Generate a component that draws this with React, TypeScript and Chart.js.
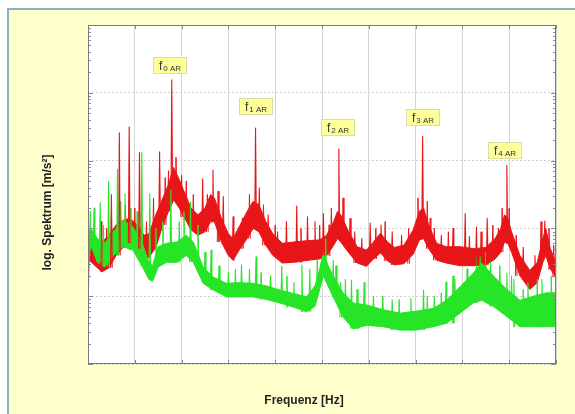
import React, { useEffect, useRef } from "react";
import { Chart, registerables } from "chart.js";

Chart.register(...registerables);

// ---- data (x in grid units of frequency, y in decades of the log spectrum) ----
const xTicks = [0, 1, 2, 3, 4, 5, 6, 7, 8, 9, 10];
const yDecades = [0, 1, 2, 3, 4, 5];
const minorMultipliers = [2, 3, 4, 5, 6, 7, 8, 9];

const redFreq = [
  0, 0.15, 0.3, 0.45, 0.6, 0.75, 0.9, 1.05, 1.2, 1.3,
  1.45, 1.6, 1.72, 1.83, 1.95, 2.05, 2.2, 2.35, 2.5, 2.62,
  2.7, 2.85, 3.0, 3.1, 3.25, 3.4, 3.53, 3.65, 3.8, 3.95,
  4.15, 4.4, 4.7, 4.95, 5.1, 5.25, 5.33, 5.4, 5.55, 5.75,
  5.95, 6.1, 6.25, 6.4, 6.55, 6.75, 6.95, 7.08, 7.17, 7.28,
  7.45, 7.65, 7.95, 8.25, 8.5, 8.7, 8.82, 8.9, 8.97, 9.05,
  9.23, 9.44, 9.6, 9.72, 9.78, 9.88, 10,
];
const redUpper = [
  1.95, 1.85, 1.8, 1.9, 2.05, 2.12, 2.15, 2.05, 1.9, 1.92,
  2.2, 2.45, 2.65, 2.9, 2.72, 2.55, 2.3, 2.2, 2.3, 2.5,
  2.45, 2.15, 1.92, 1.85, 2.05, 2.25, 2.4, 2.35, 2.1, 1.92,
  1.78, 1.8, 1.82, 1.83, 1.9, 2.1, 2.25, 2.2, 1.98, 1.73,
  1.68, 1.8, 1.93, 1.8, 1.72, 1.75, 1.98, 2.25, 2.3, 2.05,
  1.78, 1.73, 1.73, 1.7, 1.72, 1.85, 2.0, 2.2, 2.15, 1.95,
  1.6, 1.38, 1.5, 1.85, 2.0, 1.7, 1.5,
];
const redLower = [
  1.55, 1.45, 1.36, 1.42, 1.6, 1.72, 1.78, 1.7, 1.58, 1.57,
  1.72, 2.05, 2.25, 2.42, 2.3, 2.17, 1.98, 1.9, 1.95, 2.1,
  2.1, 1.8, 1.6, 1.53, 1.7, 1.85, 2.0, 1.95, 1.75, 1.6,
  1.49, 1.5, 1.53, 1.55, 1.6, 1.75, 1.85, 1.8, 1.66, 1.49,
  1.44, 1.55, 1.64, 1.52, 1.46, 1.48, 1.62, 1.83, 1.85, 1.7,
  1.53, 1.49, 1.45, 1.45, 1.46, 1.55, 1.65, 1.8, 1.78, 1.65,
  1.3, 1.1, 1.2, 1.5, 1.6, 1.4, 1.28,
];
// tall discrete lines
const redSpikeFreq = [
  0.28, 0.5, 0.67, 0.88, 1.1, 1.53, 1.79, 2.0, 2.45, 2.67,
  2.89, 3.1, 3.58, 3.66, 4.24, 4.46, 4.69, 4.85, 5.03, 5.36,
  5.7, 6.03, 6.26, 6.5, 7.15, 7.31, 7.8, 8.06, 8.3, 8.53,
  8.77, 8.95, 9.76, 3.3, 3.85, 4.05, 5.15, 5.85, 6.7, 7.55,
  8.15, 9.3, 9.55,
];
const redSpikePeak = [
  2.1, 2.5, 3.41, 3.5, 3.12, 3.13, 4.19, 2.78, 2.73, 2.86,
  2.47, 2.17, 3.48, 2.6, 2.1, 2.33, 2.17, 2.1, 2.22, 3.17,
  1.95, 2.08, 2.05, 1.95, 3.36, 2.15, 2.0, 2.22, 2.02, 2.15,
  2.0, 2.93, 2.11, 2.15, 2.2, 1.95, 2.05, 1.85, 1.9, 1.9,
  1.88, 1.72, 1.6,
];
// short noise peaks on the band edge
const redFuzzFreq = [
  0.4, 0.8, 1.0, 1.25, 1.4, 1.65, 1.72, 1.88, 2.1, 2.25,
  2.55, 2.78, 3.45, 3.75, 4.0, 4.55, 4.95, 5.2, 5.45, 5.6,
  6.15, 6.35, 6.85, 7.05, 7.25, 7.4, 7.7, 8.4, 8.65, 8.85,
  9.0, 9.15, 9.68, 9.85, 9.95,
];
const redFuzzPeak = [
  2.0, 2.35, 2.3, 2.1, 2.45, 2.75, 2.85, 3.05, 2.7, 2.5,
  2.5, 2.55, 2.5, 2.35, 2.05, 2.0, 2.05, 2.3, 2.45, 2.15,
  2.0, 2.1, 2.0, 2.45, 2.4, 2.0, 1.95, 1.95, 2.05, 2.3,
  2.3, 1.9, 2.1, 2.0, 1.75,
];

const greenFreq = [
  0, 0.03, 0.06, 0.2, 0.36, 0.54, 0.75, 0.96, 1.15, 1.3,
  1.38, 1.5, 1.68, 1.9, 2.1, 2.25, 2.46, 2.68, 2.96, 3.25,
  3.53, 3.82, 4.1, 4.39, 4.67, 4.85, 4.95, 5.03, 5.13, 5.24,
  5.45, 5.67, 5.96, 6.31, 6.67, 7.02, 7.38, 7.66, 7.95, 8.23,
  8.41, 8.66, 8.95, 9.23, 9.52, 9.8, 10,
];
const greenUpper = [
  1.2, 1.95, 2.0, 1.85, 1.78, 1.95, 2.12, 2.02, 1.8, 1.5,
  1.45, 1.73, 1.78, 1.8, 1.9, 1.8, 1.43, 1.28, 1.19, 1.2,
  1.19, 1.15, 1.09, 1.04, 0.99, 1.15, 1.4, 1.65, 1.45, 1.3,
  1.05, 0.9, 0.87, 0.8, 0.75, 0.78, 0.82, 0.94, 1.14, 1.34,
  1.49, 1.3, 1.1, 0.94, 1.0, 1.05, 1.05,
];
const greenLower = [
  0.85, 1.6, 1.75, 1.5, 1.43, 1.6, 1.73, 1.68, 1.45, 1.25,
  1.22, 1.43, 1.5, 1.5, 1.6, 1.5, 1.19, 1.09, 0.99, 0.99,
  0.99, 0.95, 0.9, 0.84, 0.77, 0.85, 1.1, 1.3, 1.15, 0.99,
  0.69, 0.52, 0.57, 0.55, 0.5, 0.5, 0.55, 0.6, 0.75, 0.9,
  0.94, 0.85, 0.7, 0.55, 0.55, 0.55, 0.55,
];
const greenSpikeFreq = [
  0.13, 0.26, 0.44, 0.63, 0.79, 1.15, 1.32, 1.77, 2.19, 2.63,
  3.28, 3.59, 4.14, 4.57, 4.74, 5.24, 5.63, 5.9, 7.17, 7.65,
  7.84, 8.38, 8.95, 3.0, 3.9, 4.4, 5.4, 6.1, 6.5, 6.9,
  7.4, 8.1, 8.6, 9.1, 9.4, 9.7,
];
const greenSpikePeak = [
  2.3, 2.38, 2.69, 2.87, 2.51, 3.12, 2.51, 2.57, 2.39, 1.68,
  1.46, 1.58, 1.44, 1.46, 1.4, 1.53, 1.24, 1.2, 1.09, 1.21,
  1.25, 1.58, 1.34, 1.35, 1.3, 1.2, 1.2, 1.0, 0.95, 0.97,
  1.0, 1.4, 1.5, 1.25, 1.2, 1.25,
];
const greenFuzzFreq = [
  0.05, 0.33, 0.5, 0.7, 0.9, 1.05, 1.45, 1.6, 1.95, 2.05,
  2.35, 2.5, 2.8, 3.15, 3.45, 3.7, 4.25, 4.9, 5.08, 5.3,
  5.5, 5.75, 6.3, 6.65, 7.25, 7.55, 7.8, 8.3, 8.5, 8.8,
  9.05, 9.3, 9.6, 9.9,
];
const greenFuzzPeak = [
  2.25, 2.05, 2.2, 2.4, 2.3, 2.25, 2.0, 2.1, 2.1, 2.25,
  2.05, 1.65, 1.45, 1.4, 1.4, 1.35, 1.3, 1.55, 1.85, 1.45,
  1.25, 1.1, 1.0, 0.95, 1.0, 1.05, 1.3, 1.6, 1.65, 1.45,
  1.3, 1.1, 1.25, 1.3,
];

const peakSubs = ["0 AR", "1 AR", "2 AR", "3 AR", "4 AR"];
const peakLabelFreq = [1.75, 3.57, 5.34, 7.14, 8.91];
const peakLabelLevel = [4.41, 3.81, 3.5, 3.64, 3.16];

const xTitle = "Frequenz [Hz]";
const yTitle = "log. Spektrum [m/s²]";

// ---- styles ----
const RED = "rgb(232,22,24)";
const GREEN = "rgb(38,228,38)";
const SPIKE_HALF = 0.018;
const FONT = '"Liberation Sans", Arial, Helvetica, sans-serif';

function nearestIndex(xs: number[], x: number) {
  let best = 0;
  for (let i = 1; i < xs.length; i++) {
    if (Math.abs(xs[i] - x) < Math.abs(xs[best] - x)) best = i;
  }
  return best;
}

function envelope(xs: number[], ys: number[]) {
  return xs.map((x, i) => ({ x, y: ys[i] }));
}

function spikes(sx: number[], sy: number[], fx: number[], lo: number[]) {
  const pts: { x: number; y: number | null }[] = [];
  sx.forEach((x, i) => {
    const base = lo[nearestIndex(fx, x)];
    pts.push({ x: x - SPIKE_HALF, y: base });
    pts.push({ x, y: sy[i] });
    pts.push({ x: x + SPIKE_HALF, y: base });
    pts.push({ x: x + SPIKE_HALF, y: null });
  });
  return pts;
}

const decorPlugin = {
  id: "decor",
  beforeDraw(chart: any) {
    const { ctx, chartArea: a } = chart;
    ctx.save();
    ctx.fillStyle = "#ffffff";
    ctx.fillRect(a.left, a.top, a.right - a.left, a.bottom - a.top);
    ctx.restore();
  },
  afterDraw(chart: any) {
    const { ctx, chartArea: a, scales } = chart;
    const xs = scales.x;
    const ys = scales.y;
    ctx.save();
    ctx.strokeStyle = "#8a8a8a";
    ctx.lineWidth = 1;
    ctx.beginPath();
    yDecades.forEach((d) => {
      const py = Math.round(ys.getPixelForValue(d)) + 0.5;
      ctx.moveTo(a.left, py);
      ctx.lineTo(a.left + 5, py);
      ctx.moveTo(a.right, py);
      ctx.lineTo(a.right - 5, py);
      minorMultipliers.forEach((k) => {
        const v = d + Math.log10(k);
        if (v > yDecades[yDecades.length - 1]) return;
        const pm = Math.round(ys.getPixelForValue(v)) + 0.5;
        ctx.moveTo(a.left, pm);
        ctx.lineTo(a.left + 3, pm);
        ctx.moveTo(a.right, pm);
        ctx.lineTo(a.right - 3, pm);
      });
    });
    xTicks.forEach((t) => {
      const px = Math.round(xs.getPixelForValue(t)) + 0.5;
      ctx.moveTo(px, a.bottom);
      ctx.lineTo(px, a.bottom - 4);
      ctx.moveTo(px, a.top);
      ctx.lineTo(px, a.top + 4);
    });
    ctx.stroke();
    ctx.strokeStyle = "#7a7a7a";
    ctx.strokeRect(
      Math.round(a.left) + 0.5,
      Math.round(a.top) + 0.5,
      Math.round(a.right - a.left) - 1,
      Math.round(a.bottom - a.top) - 1
    );
    peakSubs.forEach((sub, i) => {
      const cx = xs.getPixelForValue(peakLabelFreq[i]);
      const cy = ys.getPixelForValue(peakLabelLevel[i]);
      ctx.font = `12px ${FONT}`;
      const wf = ctx.measureText("f").width;
      ctx.font = `8px ${FONT}`;
      const ws = ctx.measureText(sub).width;
      const w = Math.round(wf + 1 + ws + 11);
      const h = 16;
      const bx = Math.round(cx - w / 2) + 0.5;
      const by = Math.round(cy - h / 2) + 0.5;
      ctx.fillStyle = "#ffff99";
      ctx.fillRect(bx, by, w, h);
      ctx.strokeStyle = "#dcdca8";
      ctx.strokeRect(bx, by, w, h);
      ctx.fillStyle = "#333333";
      ctx.textBaseline = "alphabetic";
      ctx.textAlign = "left";
      const tx = bx + 5.5;
      ctx.font = `12px ${FONT}`;
      ctx.fillText("f", tx, by + 12);
      ctx.font = `8px ${FONT}`;
      ctx.fillText(sub, tx + wf + 1, by + 13);
    });
    ctx.fillStyle = "#222222";
    ctx.font = `bold 12px ${FONT}`;
    ctx.textAlign = "center";
    ctx.textBaseline = "middle";
    ctx.fillText(xTitle, (a.left + a.right) / 2 - 18, a.bottom + 37);
    ctx.translate(a.left - 40, (a.top + a.bottom) / 2 + 18);
    ctx.rotate(-Math.PI / 2);
    ctx.fillText(yTitle, 0, 0);
    ctx.restore();
  },
};

export default function App() {
  const ref = useRef<HTMLCanvasElement>(null);

  useEffect(() => {
    if (!ref.current) return;
    const line = { pointRadius: 0, tension: 0, borderJoinStyle: "round" as const };
    const chart = new Chart(ref.current, {
      type: "line",
      data: {
        datasets: [
          {
            data: spikes(greenSpikeFreq, greenSpikePeak, greenFreq, greenLower),
            borderColor: GREEN,
            borderWidth: 1.1,
            fill: false,
            spanGaps: false,
            ...line,
          },
          {
            data: spikes(redSpikeFreq, redSpikePeak, redFreq, redLower),
            borderColor: RED,
            borderWidth: 1.1,
            fill: false,
            spanGaps: false,
            ...line,
          },
          {
            data: spikes(greenFuzzFreq, greenFuzzPeak, greenFreq, greenLower),
            borderColor: GREEN,
            borderWidth: 1,
            fill: false,
            spanGaps: false,
            ...line,
          },
          {
            data: envelope(greenFreq, greenUpper),
            borderColor: GREEN,
            backgroundColor: GREEN,
            borderWidth: 1,
            fill: "+1",
            ...line,
          },
          {
            data: envelope(greenFreq, greenLower),
            borderColor: GREEN,
            borderWidth: 1,
            fill: false,
            ...line,
          },
          {
            data: spikes(redFuzzFreq, redFuzzPeak, redFreq, redLower),
            borderColor: RED,
            borderWidth: 1,
            fill: false,
            spanGaps: false,
            ...line,
          },
          {
            data: envelope(redFreq, redUpper),
            borderColor: RED,
            backgroundColor: RED,
            borderWidth: 1,
            fill: "+1",
            ...line,
          },
          {
            data: envelope(redFreq, redLower),
            borderColor: RED,
            borderWidth: 1,
            fill: false,
            ...line,
          },
        ] as any,
      },
      options: {
        animation: false,
        responsive: false,
        maintainAspectRatio: false,
        layout: { padding: { left: 88, right: 19, top: 25, bottom: 50 } },
        plugins: {
          legend: { display: false },
          tooltip: { enabled: false },
          title: { display: false },
        },
        events: [],
        scales: {
          x: {
            type: "linear",
            min: xTicks[0],
            max: xTicks[xTicks.length - 1],
            ticks: { display: false, stepSize: 1 },
            grid: { color: "#d4d4d4", drawTicks: false, lineWidth: 1 },
            border: { display: false },
          },
          y: {
            type: "linear",
            min: yDecades[0],
            max: yDecades[yDecades.length - 1],
            ticks: { display: false, stepSize: 1 },
            grid: { color: "#d0d0d0", drawTicks: false, lineWidth: 1 },
            border: { display: false, dash: [2, 2] },
          },
        },
      },
      plugins: [decorPlugin],
    });
    return () => chart.destroy();
  }, []);

  return (
    <>
      <div
        style={{
          position: "fixed",
          left: 7,
          top: 8,
          width: 568,
          height: 406,
          background: "#ffffcc",
          borderTop: "2px solid #88b6b6",
          borderLeft: "2px solid #88b6b6",
          boxSizing: "border-box",
        }}
      />
      <canvas
        ref={ref}
        width={575}
        height={414}
        style={{ position: "fixed", left: 0, top: 0, width: 575, height: 414 }}
      />
    </>
  );
}
